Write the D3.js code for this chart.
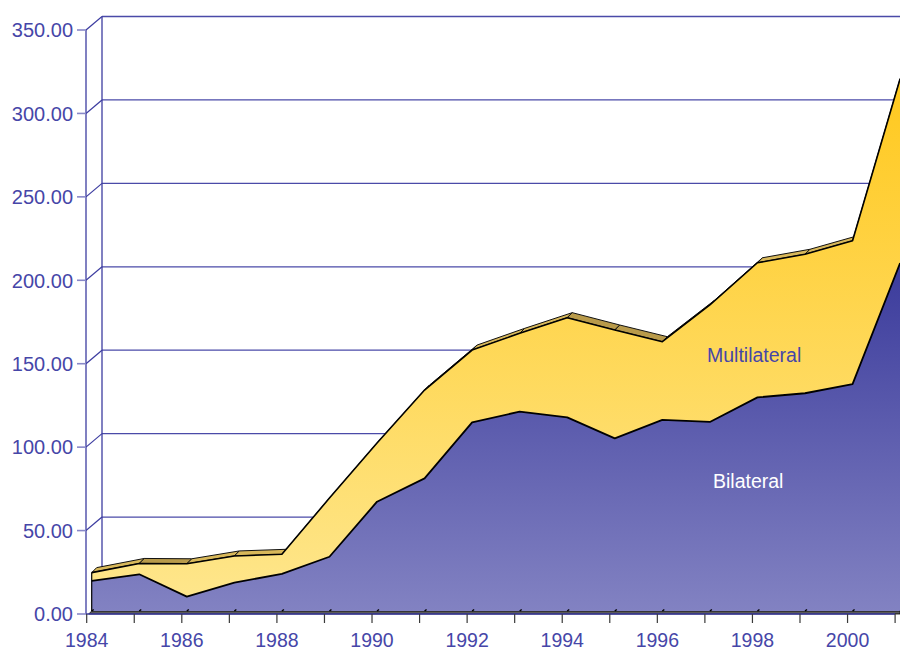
<!DOCTYPE html>
<html><head><meta charset="utf-8">
<script src="https://cdn.jsdelivr.net/npm/d3@7"></script>
<style>html,body{margin:0;padding:0;background:#fff;}svg{display:block;}</style>
</head><body>
<svg id="c" width="900" height="651"></svg>
<script>
const years = [1984,1985,1986,1987,1988,1989,1990,1991,1992,1993,1994,1995,1996,1997,1998,1999,2000,2001];
const bilateral = [18,22,8.6,17,22.3,32.5,65.5,79.5,113,119.5,116,103.5,114.5,113.3,128,130.5,136,208.5];
const multilateral = [5,6.5,19.7,16,11.7,35.2,35.2,52.9,43.4,46.9,59.8,64.9,46.9,70.1,80.7,83.3,85.9,110.5];
const yTicks = [0,50,100,150,200,250,300,350];
const xLabels = [1984,1986,1988,1990,1992,1994,1996,1998,2000];
const seriesNames = ["Bilateral","Multilateral"];

const svg = d3.select("#c");
const axisCol = "#3c3ca0", textCol = "#4646a8";
const font = "'Liberation Sans', Arial, sans-serif";

const x = d3.scaleLinear().domain([1984,2001]).range([86.7,895.1]);
const y = d3.scaleLinear().domain([0,350]).range([614,30]);
const wallDx = 16, wallDy = -13.5;
const fDx = 5, fDy = -3;   // front face offset of series
const dDx = 5, dDy = -5;   // series depth

const defs = svg.append("defs");
const gb = defs.append("linearGradient").attr("id","gBil").attr("gradientUnits","userSpaceOnUse")
  .attr("x1",0).attr("x2",0).attr("y1",250).attr("y2",611);
gb.append("stop").attr("offset",0).attr("stop-color","#38389a");
gb.append("stop").attr("offset",1).attr("stop-color","#8282c2");
const gm = defs.append("linearGradient").attr("id","gMul").attr("gradientUnits","userSpaceOnUse")
  .attr("x1",0).attr("x2",0).attr("y1",70).attr("y2",600);
gm.append("stop").attr("offset",0).attr("stop-color","#ffc81c");
gm.append("stop").attr("offset",1).attr("stop-color","#fee68c");

// back wall gridlines
const grid = svg.append("g");
yTicks.forEach(v => {
  const yf = y(v), yb = y(v) + wallDy;
  if (v > 0) {
    grid.append("line").attr("x1",x(1984)+wallDx-0.7).attr("x2",900).attr("y1",yb).attr("y2",yb)
      .attr("stroke","#4a4aa8").attr("stroke-width",1.3);
    grid.append("line").attr("x1",86).attr("x2",86+wallDx).attr("y1",yf).attr("y2",yb)
      .attr("stroke",axisCol).attr("stroke-width",1.2);
  }
});
grid.append("line").attr("x1",86+wallDx).attr("x2",86+wallDx).attr("y1",y(350)+wallDy).attr("y2",y(0)+wallDy)
  .attr("stroke",axisCol).attr("stroke-width",1.3);

const stack = years.map((yr,i) => ({yr, b: bilateral[i], t: bilateral[i]+multilateral[i]}));
const fx = d => x(d.yr) + fDx;
const fy = v => y(v) + fDy;

// floor strip
svg.append("path")
  .attr("d", `M${fx(stack[0])},${fy(0)} L${fx(stack[stack.length-1])},${fy(0)} L${fx(stack[stack.length-1])},${y(0)} L${x(1984)+2},${y(0)} Z`)
  .attr("fill","#5a5a5a").attr("stroke","#000").attr("stroke-width",0.8);

// top band (depth) of the total
const band = svg.append("g");
for (let i = 0; i < stack.length-1; i++) {
  const a = stack[i], b = stack[i+1];
  const p = [[fx(a),fy(a.t)],[fx(b),fy(b.t)],[fx(b)+dDx,fy(b.t)+dDy],[fx(a)+dDx,fy(a.t)+dDy]];
  band.append("path").attr("d","M"+p.map(q=>q.join(",")).join("L")+"Z")
    .attr("fill", b.t < a.t ? "#b89a4a" : "#d8b85a").attr("stroke","#111").attr("stroke-width",1).attr("stroke-linejoin","round");
}

// front faces
const areaM = d3.area().x(fx).y0(d=>fy(d.b)).y1(d=>fy(d.t));
const areaB = d3.area().x(fx).y0(fy(0)).y1(d=>fy(d.b));
svg.append("path").datum(stack).attr("d",areaM).attr("fill","url(#gMul)");
svg.append("path").datum(stack).attr("d",areaB).attr("fill","url(#gBil)");

const lineT = d3.line().x(fx).y(d=>fy(d.t));
const lineB = d3.line().x(fx).y(d=>fy(d.b));
svg.append("path").datum(stack).attr("d",lineT).attr("fill","none").attr("stroke","#000").attr("stroke-width",1.6).attr("stroke-linejoin","round");
svg.append("path").datum(stack).attr("d",lineB).attr("fill","none").attr("stroke","#000").attr("stroke-width",1.8).attr("stroke-linejoin","round");
svg.append("line").attr("x1",fx(stack[0])).attr("x2",fx(stack[0])).attr("y1",fy(stack[0].t)).attr("y2",fy(0))
  .attr("stroke","#000").attr("stroke-width",1.2);
stack.forEach(d => {
  svg.append("line").attr("x1",fx(d)).attr("x2",fx(d)+2).attr("y1",fy(0)).attr("y2",fy(0)-1.5)
    .attr("stroke","#000").attr("stroke-width",1.5);
});

// front y axis
const ax = svg.append("g");
ax.append("line").attr("x1",86).attr("x2",86).attr("y1",y(350)).attr("y2",y(0)).attr("stroke",axisCol).attr("stroke-width",1.3);
yTicks.forEach(v => {
  ax.append("line").attr("x1",77).attr("x2",86).attr("y1",y(v)).attr("y2",y(v)).attr("stroke","#8888c8").attr("stroke-width",1.6);
  ax.append("text").attr("x",73).attr("y",y(v)+7.3).attr("text-anchor","end")
    .attr("font-family",font).attr("font-size",20).attr("fill",textCol).text(d3.format(".2f")(v));
});
// x axis
ax.append("line").attr("x1",86).attr("x2",x(2001)).attr("y1",y(0)).attr("y2",y(0)).attr("stroke",axisCol).attr("stroke-width",1.5);
years.forEach(yr => {
  ax.append("line").attr("x1",x(yr)).attr("x2",x(yr)).attr("y1",y(0)).attr("y2",y(0)+9).attr("stroke","#3a3a3a").attr("stroke-width",1.2);
});
xLabels.forEach(yr => {
  ax.append("text").attr("x",x(yr)).attr("y",646.5).attr("text-anchor","middle")
    .attr("font-family",font).attr("font-size",19.5).attr("fill",textCol).text(yr);
});

// series labels
svg.append("text").attr("x",707).attr("y",362).attr("font-family",font).attr("font-size",19.5)
  .attr("fill",textCol).text(seriesNames[1]);
svg.append("text").attr("x",713).attr("y",488).attr("font-family",font).attr("font-size",19.5)
  .attr("fill","#ffffff").text(seriesNames[0]);
</script>
</body></html>
